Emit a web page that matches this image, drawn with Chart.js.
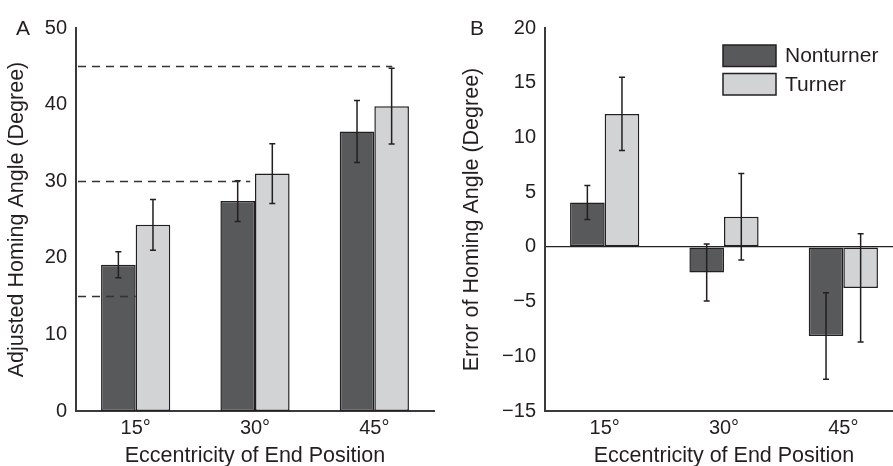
<!DOCTYPE html>
<html>
<head>
<meta charset="utf-8">
<script src="https://cdn.jsdelivr.net/npm/chart.js@4.4.1/dist/chart.umd.min.js"></script>
<style>
  html, body { margin: 0; padding: 0; background: #fff; overflow: hidden; }
  body { width: 893px; height: 466px; position: relative; }
  .panel { position: absolute; top: 0; height: 466px; }
  #panelA { left: 0; width: 440px; }
  #panelB { left: 450px; width: 460px; }
</style>
</head>
<body>
<div class="panel" id="panelA"><canvas id="chartA"></canvas></div>
<div class="panel" id="panelB"><canvas id="chartB"></canvas></div>
<script>
const categories = ['15°', '30°', '45°'];
const seriesNames = ['Nonturner', 'Turner'];

// panel A - adjusted homing angle
const adjustedNonturner = [19.1, 27.4, 36.5];
const adjustedTurner = [24.3, 31.0, 39.8];
const adjustedNonturnerErr = [1.7, 2.65, 4.05];
const adjustedTurnerErr = [3.3, 3.9, 4.95];
const yTicksA = [0, 10, 20, 30, 40, 50];
const targetAngles = [15, 30, 45];
const targetLineEnds = [0, 0.96, 2.15]; // category units

// panel B - error of homing angle
const errorNonturner = [4.05, -2.35, -8.15];
const errorTurner = [12.15, 2.75, -3.75];
const errorNonturnerErr = [1.55, 2.6, 3.95];
const errorTurnerErr = [3.35, 3.95, 4.95];
const yTicksB = [-15, -10, -5, 0, 5, 10, 15, 20];

const FONT = "'Liberation Sans', Arial, Helvetica, sans-serif";
const INK = '#231f20';
const DARK = '#58595b';
const LIGHT = '#d1d3d4';
Chart.defaults.font.family = FONT;
Chart.defaults.color = INK;

const errorBars = {
  id: 'errorBars',
  afterDatasetsDraw(chart) {
    const { ctx, scales: { y } } = chart;
    ctx.save();
    ctx.strokeStyle = INK;
    ctx.lineWidth = 1.5;
    chart.data.datasets.forEach((ds, i) => {
      chart.getDatasetMeta(i).data.forEach((bar, j) => {
        const v = ds.data[j], e = ds.errors[j];
        const top = y.getPixelForValue(v + e), bot = y.getPixelForValue(v - e);
        ctx.beginPath();
        ctx.moveTo(bar.x, top); ctx.lineTo(bar.x, bot);
        ctx.moveTo(bar.x - 3, top); ctx.lineTo(bar.x + 3, top);
        ctx.moveTo(bar.x - 3, bot); ctx.lineTo(bar.x + 3, bot);
        ctx.stroke();
      });
    });
    ctx.restore();
  }
};

const targetLines = {
  id: 'targetLines',
  afterDatasetsDraw(chart, args, opts) {
    if (!opts.show) return;
    const { ctx, chartArea, scales: { x, y } } = chart;
    const step = x.getPixelForValue(1) - x.getPixelForValue(0);
    ctx.save();
    ctx.strokeStyle = '#333';
    ctx.lineWidth = 1.3;
    ctx.setLineDash([8, 6]);
    targetAngles.forEach((a, i) => {
      const py = Math.round(y.getPixelForValue(a)) + 0.5;
      ctx.beginPath();
      ctx.moveTo(chartArea.left + 2, py);
      ctx.lineTo(x.getPixelForValue(0) + targetLineEnds[i] * step, py);
      ctx.stroke();
    });
    ctx.restore();
  }
};

const panelDecor = {
  id: 'panelDecor',
  afterDraw(chart, args, opts) {
    const { ctx, chartArea } = chart;
    ctx.save();
    ctx.fillStyle = INK;
    ctx.font = `21px ${FONT}`;
    ctx.textBaseline = 'alphabetic';
    ctx.fillText(opts.letter, opts.letterX, 35);
    if (opts.legend) {
      const bx = chartArea.left + 178, by = chartArea.top + 17;
      chart.data.datasets.forEach((ds, i) => {
        const top = by + i * 28.5;
        ctx.fillStyle = ds.backgroundColor;
        ctx.fillRect(bx, top, 53, 21.5);
        ctx.strokeStyle = INK;
        ctx.lineWidth = 1.5;
        ctx.strokeRect(bx, top, 53, 21.5);
        ctx.fillStyle = INK;
        ctx.textBaseline = 'middle';
        ctx.fillText(ds.label, bx + 62, top + 11.5);
      });
    }
    ctx.restore();
  }
};

function makeChart(id, cfg) {
  const ticksArr = cfg.ticks;
  return new Chart(document.getElementById(id), {
    type: 'bar',
    data: {
      labels: categories,
      datasets: [
        { label: seriesNames[0], data: cfg.non, errors: cfg.nonErr, backgroundColor: DARK },
        { label: seriesNames[1], data: cfg.turn, errors: cfg.turnErr, backgroundColor: LIGHT }
      ]
    },
    options: {
      responsive: true,
      maintainAspectRatio: false,
      animation: false,
      layout: { padding: { top: 28, right: cfg.padRight, left: 0, bottom: 0 } },
      datasets: {
        bar: { categoryPercentage: 0.58, barPercentage: 1, borderColor: INK, borderWidth: 1.5, borderSkipped: false }
      },
      plugins: {
        legend: { display: false },
        tooltip: { enabled: false },
        targetLines: { show: cfg.targets },
        panelDecor: { letter: cfg.letter, letterX: cfg.letterX, legend: cfg.legend }
      },
      scales: {
        x: {
          grid: { display: false, drawTicks: false },
          border: { display: true, color: '#3a3a3a', width: 2 },
          ticks: { font: { size: 20 }, padding: 5, color: INK },
          title: { display: true, text: 'Eccentricity of End Position', font: { size: 21.5, lineHeight: 1 }, padding: { top: 0, bottom: -1 }, color: INK },
          afterFit: (s) => { s.height = 55; }
        },
        y: {
          min: ticksArr[0],
          max: ticksArr[ticksArr.length - 1],
          afterBuildTicks: (s) => { s.ticks = ticksArr.map((v) => ({ value: v })); },
          grid: {
            display: cfg.zeroLine,
            drawTicks: false,
            color: (c) => (c.tick && c.tick.value === 0 ? '#222' : 'rgba(0,0,0,0)'),
            lineWidth: 1.2
          },
          border: { display: true, color: '#3a3a3a', width: 2 },
          ticks: {
            font: { size: 20 }, padding: 9, color: INK,
            callback: (v) => (v < 0 ? '\u2212' + Math.abs(v) : String(v))
          },
          title: { display: true, text: cfg.yTitle, font: { size: 21.5, lineHeight: 1 }, padding: { top: cfg.titlePad, bottom: 0 }, color: INK },
          afterFit: (s) => { s.width = cfg.axisWidth; }
        }
      }
    },
    plugins: [errorBars, targetLines, panelDecor]
  });
}

makeChart('chartA', {
  non: adjustedNonturner, turn: adjustedTurner,
  nonErr: adjustedNonturnerErr, turnErr: adjustedTurnerErr,
  ticks: yTicksA, yTitle: 'Adjusted Homing Angle (Degree)',
  axisWidth: 76, padRight: 6, titlePad: 6, zeroLine: false,
  targets: true, letter: 'A', letterX: 16, legend: false
});

makeChart('chartB', {
  non: errorNonturner, turn: errorTurner,
  nonErr: errorNonturnerErr, turnErr: errorTurnerErr,
  ticks: yTicksB, yTitle: 'Error of Homing Angle (Degree)',
  axisWidth: 95, padRight: 7, titlePad: 11, zeroLine: true,
  targets: false, letter: 'B', letterX: 20, legend: true
});
</script>
</body>
</html>
